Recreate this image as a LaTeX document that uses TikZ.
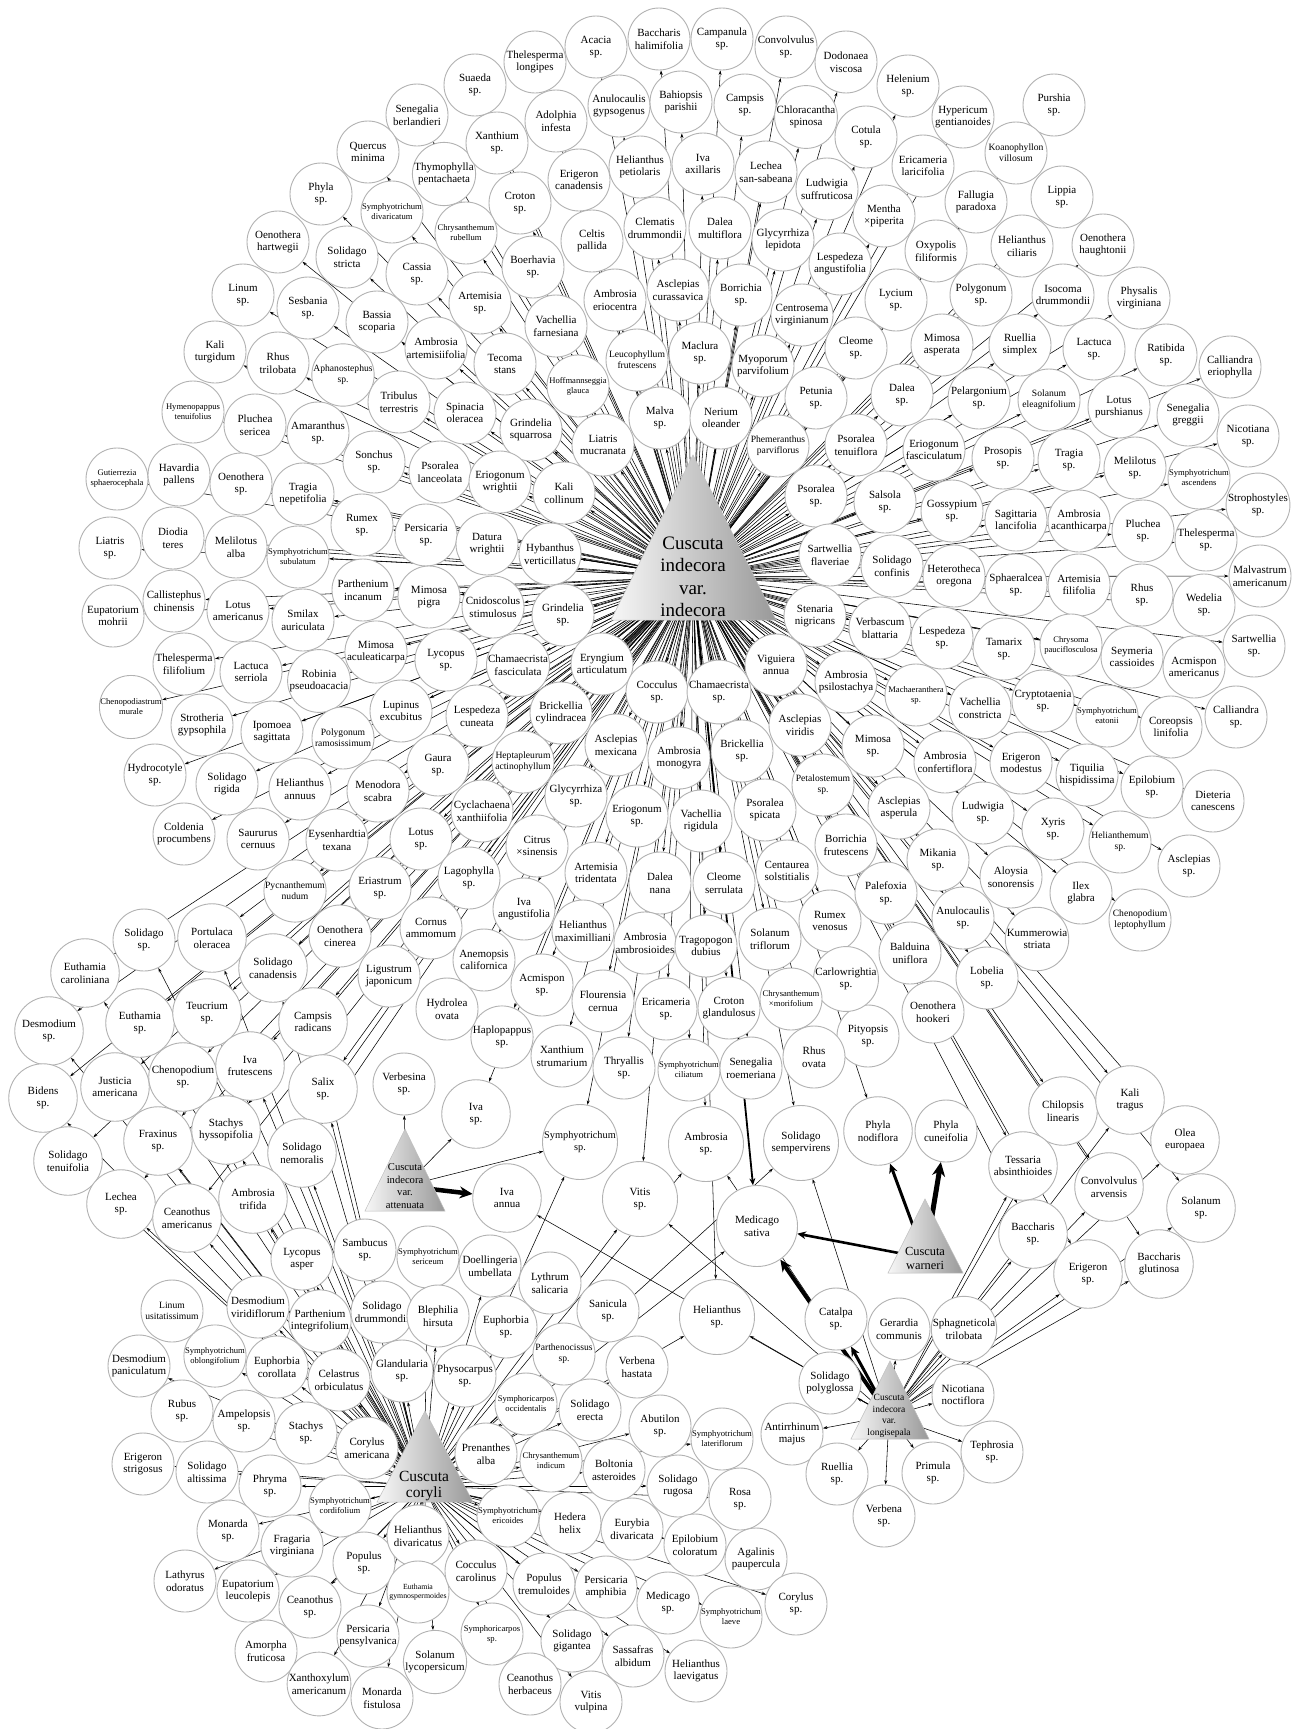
\documentclass[tikz,border=0pt]{standalone}
\usepackage{fontspec}
\setmainfont{Liberation Serif}
\usetikzlibrary{arrows.meta}
\pgfdeclarelayer{bg}
\pgfsetlayers{bg,main}
\newcommand\pl[5][p1]{\node[#1] (#2) at (#3,#4) {#5};}
\begin{document}
\begin{tikzpicture}[x=1pt,y=-1pt,
  p1/.style={circle,draw=gray!60,line width=0.9pt,fill=white,minimum size=62pt,inner sep=0pt,align=center,text=black,font=\fontsize{11}{12.6}\selectfont},
  p1m/.style={p1,font=\fontsize{9.6}{11}\selectfont},
  p1s/.style={p1,font=\fontsize{8.6}{10}\selectfont},
  p1xs/.style={p1,font=\fontsize{7.8}{9.4}\selectfont},
  p2/.style={p1,minimum size=68.5pt},
  p3/.style={p1,minimum size=75pt},
  p3m/.style={p3,font=\fontsize{10.3}{11.6}\selectfont},
  p4/.style={p1,minimum size=81pt},
  edge/.style={line width=0.55pt,-{Stealth[length=4.5pt,width=3pt]}},
  heavy/.style={line width=#1,-{Stealth[length=3pt 2.2,width=2pt 2.2]}},
  hubtri/.style={left color=gray!6,right color=gray!80,draw=gray!50,line width=0.5pt},
  hubtext/.style={align=center,text=black,inner sep=0pt},
]
\useasboundingbox (0,0) rectangle (1297,1729);
% ---------- hubs ----------
\shade[hubtri] (693,455) -- (776,620) -- (611,620) -- cycle;
\node[hubtext,font=\fontsize{19}{22.5}\selectfont] (A) at (693,577) {Cuscuta\\indecora\\var.\\indecora};
\shade[hubtri] (405,1129) -- (445,1211) -- (365,1211) -- cycle;
\node[hubtext,font=\fontsize{10.6}{12.6}\selectfont] (B) at (405,1186) {Cuscuta\\indecora\\var.\\attenuata};
\shade[hubtri] (925,1199) -- (963,1273) -- (888,1273) -- cycle;
\node[hubtext,font=\fontsize{12.4}{14}\selectfont] (C) at (925,1258) {Cuscuta\\warneri};
\shade[hubtri] (890,1361) -- (929,1439) -- (851,1439) -- cycle;
\node[hubtext,font=\fontsize{9.5}{11.5}\selectfont] (D) at (889,1416) {Cuscuta\\indecora\\var.\\longisepala};
\shade[hubtri] (425,1411) -- (473,1502) -- (377,1502) -- cycle;
\node[hubtext,font=\fontsize{15.5}{16}\selectfont] (E) at (424,1486) {Cuscuta\\coryli};
% ---------- upper left ----------
\pl{seneb}{417}{115}{Senegalia\\berlandieri}
\pl{quer}{368}{152}{Quercus\\minima}
\pl{thym}{444}{174}{Thymophylla\\pentachaeta}
\pl{phyla}{321}{194}{Phyla\\sp.}
\pl[p1s]{symdiv}{392}{212}{Symphyotrichum\\divaricatum}
\pl{oenhar}{278}{242}{Oenothera\\hartwegii}
\pl{solstr}{347}{257}{Solidago\\stricta}
\pl{cassia}{417}{274}{Cassia\\sp.}
\pl{linum}{243}{295}{Linum\\sp.}
\pl{sesb}{308}{308}{Sesbania\\sp.}
\pl{bassia}{377}{322}{Bassia\\scoparia}
\pl{ambart}{436}{348}{Ambrosia\\artemisiifolia}
\pl{kalitu}{215}{352}{Kali\\turgidum}
\pl{rhustr}{278}{363}{Rhus\\trilobata}
\pl[p1m]{aphan}{343}{375}{Aphanostephus\\sp.}
\pl{tribu}{399}{402}{Tribulus\\terrestris}
\pl[p1s]{hymen}{193}{412}{Hymenopappus\\tenuifolius}
\pl{plusr}{255}{425}{Pluchea\\sericea}
\pl{amara}{318}{433}{Amaranthus\\sp.}
% ---------- top ----------
\pl{thelo}{535}{62}{Thelesperma\\longipes}
\pl{acacia}{596}{47}{Acacia\\sp.}
\pl{bacha}{659}{39}{Baccharis\\halimifolia}
\pl{campa}{722}{39}{Campanula\\sp.}
\pl{convs}{786}{47}{Convolvulus\\sp.}
\pl{dodon}{846}{62}{Dodonaea\\viscosa}
\pl{suaeda}{475}{85}{Suaeda\\sp.}
\pl{anugy}{619}{106}{Anulocaulis\\gypsogenus}
\pl{bahio}{681}{102}{Bahiopsis\\parishii}
\pl{campsp}{745}{105}{Campsis\\sp.}
\pl{chlor}{806}{117}{Chloracantha\\spinosa}
\pl{adolp}{556}{121}{Adolphia\\infesta}
\pl{xansp}{497}{143}{Xanthium\\sp.}
\pl{helpet}{640}{167}{Helianthus\\petiolaris}
\pl{ivaax}{703}{164}{Iva\\axillaris}
\pl{lechss}{766}{172}{Lechea\\san-sabeana}
\pl{ludsuf}{827}{189}{Ludwigia\\suffruticosa}
\pl{erican}{579}{180}{Erigeron\\canadensis}
\pl{crotsp}{520}{203}{Croton\\sp.}
\pl[p1s]{chrrub}{466}{233}{Chrysanthemum\\rubellum}
\pl{celtis}{592}{241}{Celtis\\pallida}
\pl{clema}{655}{228}{Clematis\\drummondii}
\pl{dalmul}{720}{228}{Dalea\\multiflora}
\pl{glylep}{783}{240}{Glycyrrhiza\\lepidota}
\pl{lesang}{840}{264}{Lespedeza\\angustifolia}
\pl{boerh}{533}{267}{Boerhavia\\sp.}
\pl{artsp}{480}{303}{Artemisia\\sp.}
\pl{amberi}{615}{300}{Ambrosia\\eriocentra}
\pl{asccur}{678}{290}{Asclepias\\curassavica}
\pl{borsp}{741}{295}{Borrichia\\sp.}
\pl{centro}{802}{315}{Centrosema\\virginianum}
\pl{vachfa}{556}{326}{Vachellia\\farnesiana}
\pl{tecoma}{505}{364}{Tecoma\\stans}
\pl[p1m]{leuco}{637}{360}{Leucophyllum\\frutescens}
\pl{maclu}{700}{353}{Maclura\\sp.}
\pl{myopo}{763}{366}{Myoporum\\parvifolium}
\pl{cleosp}{856}{348}{Cleome\\sp.}
\pl[p1s]{hoffm}{578}{386}{Hoffmannseggia\\glauca}
\pl{petun}{816}{398}{Petunia\\sp.}
\pl{spina}{465}{413}{Spinacia\\oleracea}
\pl{grisq}{531}{430}{Grindelia\\squarrosa}
\pl{malva}{660}{418}{Malva\\sp.}
\pl{nerium}{721}{418}{Nerium\\oleander}
\pl{liamu}{603}{445}{Liatris\\mucranata}
\pl[p1m]{pheme}{778}{446}{Phemeranthus\\parviflorus}
% ---------- upper right ----------
\pl{helen}{908}{86}{Helenium\\sp.}
\pl{pursh}{1054}{105}{Purshia\\sp.}
\pl{hyper}{963}{117}{Hypericum\\gentianoides}
\pl{cotula}{866}{137}{Cotula\\sp.}
\pl[p1m]{koano}{1016}{153}{Koanophyllon\\villosum}
\pl{erilar}{923}{166}{Ericameria\\laricifolia}
\pl{lippia}{1062}{197}{Lippia\\sp.}
\pl{fallu}{976}{202}{Fallugia\\paradoxa}
\pl{mentha}{884}{216}{Mentha\\×piperita}
\pl{helcil}{1022}{246}{Helianthus\\ciliaris}
\pl{oenhau}{1103}{245}{Oenothera\\haughtonii}
\pl{oxypo}{936}{251}{Oxypolis\\filiformis}
\pl{lycium}{896}{300}{Lycium\\sp.}
\pl{polysp}{981}{295}{Polygonum\\sp.}
\pl{isoco}{1063}{295}{Isocoma\\drummondii}
\pl{physa}{1139}{298}{Physalis\\virginiana}
\pl{mimasp}{942}{345}{Mimosa\\asperata}
\pl{ruesim}{1020}{345}{Ruellia\\simplex}
\pl{lactsp}{1094}{349}{Lactuca\\sp.}
\pl{ratib}{1166}{355}{Ratibida\\sp.}
\pl{callie}{1230}{367}{Calliandra\\eriophylla}
\pl{dalsp}{902}{395}{Dalea\\sp.}
\pl{pelar}{979}{398}{Pelargonium\\sp.}
\pl[p1m]{solele}{1049}{400}{Solanum\\eleagnifolium}
\pl{lotpur}{1119}{407}{Lotus\\purshianus}
\pl{segreg}{1188}{415}{Senegalia\\greggii}
\pl{nicsp}{1248}{436}{Nicotiana\\sp.}
\pl{psoten}{856}{445}{Psoralea\\tenuiflora}
\pl{erifas}{934}{450}{Eriogonum\\fasciculatum}
\pl{prosop}{1003}{458}{Prosopis\\sp.}
\pl{tragsp}{1069}{460}{Tragia\\sp.}
\pl{melsp}{1135}{468}{Melilotus\\sp.}
\pl[p1s]{symasc}{1199}{478}{Symphyotrichum\\ascendens}
\pl{stroph}{1258}{505}{Strophostyles\\sp.}
\pl{salsola}{885}{502}{Salsola\\sp.}
\pl{gossy}{952}{511}{Gossypium\\sp.}
\pl{sagit}{1016}{520}{Sagittaria\\lancifolia}
\pl{ambaca}{1079}{521}{Ambrosia\\acanthicarpa}
\pl{plusp}{1143}{531}{Pluchea\\sp.}
\pl{thelsp}{1206}{540}{Thelesperma\\sp.}
\pl{malvas}{1260}{576}{Malvastrum\\americanum}
\pl{solcon}{892}{566}{Solidago\\confinis}
\pl{heter}{954}{576}{Heterotheca\\oregona}
\pl{sphae}{1016}{585}{Sphaeralcea\\sp.}
\pl{artfil}{1079}{585}{Artemisia\\filifolia}
\pl{rhussp}{1142}{595}{Rhus\\sp.}
\pl{wedel}{1204}{605}{Wedelia\\sp.}
\pl{sartsp}{1254}{646}{Sartwellia\\sp.}
\pl{verbla}{880}{628}{Verbascum\\blattaria}
\pl{lespsp}{942}{638}{Lespedeza\\sp.}
\pl{tamar}{1004}{649}{Tamarix\\sp.}
\pl[p1s]{chryso}{1071}{645}{Chrysoma\\pauciflosculosa}
\pl{seyme}{1132}{657}{Seymeria\\cassioides}
\pl{acmam}{1194}{667}{Acmispon\\americanus}
\pl[p1s]{machae}{916}{695}{Machaeranthera\\sp.}
\pl{vachco}{980}{708}{Vachellia\\constricta}
\pl{crypto}{1043}{701}{Cryptotaenia\\sp.}
\pl[p1s]{symeat}{1107}{716}{Symphyotrichum\\eatonii}
\pl{coreop}{1171}{727}{Coreopsis\\linifolia}
\pl{callsp}{1236}{717}{Calliandra\\sp.}
\pl{mimosp}{873}{746}{Mimosa\\sp.}
\pl{ambcon}{945}{762}{Ambrosia\\confertiflora}
\pl{erimod}{1021}{763}{Erigeron\\modestus}
\pl{tiqui}{1087}{775}{Tiquilia\\hispidissima}
\pl{epilsp}{1152}{787}{Epilobium\\sp.}
\pl{dieter}{1213}{801}{Dieteria\\canescens}
\pl{ascasp}{899}{808}{Asclepias\\asperula}
\pl{ludsp}{983}{813}{Ludwigia\\sp.}
\pl{xyris}{1053}{829}{Xyris\\sp.}
\pl[p1m]{helthe}{1120}{842}{Helianthemum\\sp.}
\pl{ascsp}{1189}{866}{Asclepias\\sp.}
\pl{mikan}{938}{860}{Mikania\\sp.}
\pl{aloys}{1011}{877}{Aloysia\\sonorensis}
\pl{ilex}{1081}{893}{Ilex\\glabra}
\pl[p1m]{chelep}{1140}{920}{Chenopodium\\leptophyllum}
\pl{palef}{886}{893}{Palefoxia\\sp.}
\pl{anusp}{963}{918}{Anulocaulis\\sp.}
\pl{kummer}{1037}{939}{Kummerowia\\striata}
\pl{baldu}{910}{953}{Balduina\\uniflora}
\pl{lobel}{987}{978}{Lobelia\\sp.}
\pl{oenhoo}{933}{1012}{Oenothera\\hookeri}
\pl{pityo}{868}{1036}{Pityopsis\\sp.}
% ---------- left ----------
\pl[p1s]{gutie}{117}{479}{Gutierrezia\\sphaerocephala}
\pl{havar}{179}{475}{Havardia\\pallens}
\pl{oensp}{241}{484}{Oenothera\\sp.}
\pl{tranep}{303}{494}{Tragia\\nepetifolia}
\pl{sonch}{374}{462}{Sonchus\\sp.}
\pl{psolan}{440}{472}{Psoralea\\lanceolata}
\pl{liasp}{110}{548}{Liatris\\sp.}
\pl{diodia}{173}{538}{Diodia\\teres}
\pl{melalb}{236}{547}{Melilotus\\alba}
\pl[p1s]{symsub}{298}{557}{Symphyotrichum\\subulatum}
\pl{rumsp}{362}{525}{Rumex\\sp.}
\pl{persp}{426}{535}{Persicaria\\sp.}
\pl{eupmoh}{113}{616}{Eupatorium\\mohrii}
\pl{calli}{174}{601}{Callistephus\\chinensis}
\pl{lotam}{238}{611}{Lotus\\americanus}
\pl{parinc}{363}{590}{Parthenium\\incanum}
\pl{smilax}{303}{620}{Smilax\\auriculata}
\pl{mimpig}{429}{597}{Mimosa\\pigra}
\pl{thefil}{184}{664}{Thelesperma\\filifolium}
\pl{lacser}{251}{672}{Lactuca\\serriola}
\pl{robin}{319}{681}{Robinia\\pseudoacacia}
\pl{mimacu}{376}{652}{Mimosa\\aculeaticarpa}
\pl{lycosp}{446}{660}{Lycopus\\sp.}
\pl[p1s]{chemur}{131}{707}{Chenopodiastrum\\murale}
\pl{strot}{202}{725}{Strotheria\\gypsophila}
\pl{ipomo}{272}{732}{Ipomoea\\sagittata}
\pl[p1m]{polram}{343}{738}{Polygonum\\ramosissimum}
\pl{lupin}{401}{711}{Lupinus\\excubitus}
\pl{gaura}{438}{765}{Gaura\\sp.}
\pl{hydrsp}{155}{775}{Hydrocotyle\\sp.}
\pl{solrig}{227}{784}{Solidago\\rigida}
\pl{helann}{300}{789}{Helianthus\\annuus}
\pl{menod}{378}{791}{Menodora\\scabra}
\pl{colde}{184}{834}{Coldenia\\procumbens}
\pl{saur}{258}{839}{Saururus\\cernuus}
\pl{eysen}{337}{840}{Eysenhardtia\\texana}
\pl{lotsp}{421}{839}{Lotus\\sp.}
% ---------- inner ring ----------
\pl{eriwri}{500}{482}{Eriogonum\\wrightii}
\pl{kalico}{564}{493}{Kali\\collinum}
\pl{psosp}{816}{496}{Psoralea\\sp.}
\pl{datura}{487}{544}{Datura\\wrightii}
\pl{hyban}{550}{554}{Hybanthus\\verticillatus}
\pl{sartfl}{830}{555}{Sartwellia\\flaveriae}
\pl{cnido}{493}{607}{Cnidoscolus\\stimulosus}
\pl{grisp}{563}{615}{Grindelia\\sp.}
\pl{stena}{815}{616}{Stenaria\\nigricans}
\pl{chafas}{518}{665}{Chamaecrista\\fasciculata}
\pl{eryng}{602}{664}{Eryngium\\articulatum}
\pl{vigui}{776}{665}{Viguiera\\annua}
\pl{ambpsi}{846}{682}{Ambrosia\\psilostachya}
\pl{coccsp}{657}{692}{Cocculus\\sp.}
\pl{chamsp}{719}{692}{Chamaecrista\\sp.}
\pl{lescun}{477}{716}{Lespedeza\\cuneata}
\pl{bricyl}{561}{713}{Brickellia\\cylindracea}
\pl{ascvir}{800}{725}{Asclepias\\viridis}
\pl{ascmex}{616}{745}{Asclepias\\mexicana}
\pl{ambmon}{679}{758}{Ambrosia\\monogyra}
\pl{bricsp}{742}{751}{Brickellia\\sp.}
\pl[p1m]{hepta}{523}{762}{Heptapleurum\\actinophyllum}
\pl[p1m]{petal}{823}{785}{Petalostemum\\sp.}
\pl{glysp}{576}{796}{Glycyrrhiza\\sp.}
\pl{cycla}{482}{811}{Cyclachaena\\xanthiifolia}
\pl{erisp}{637}{816}{Eriogonum\\sp.}
\pl{vacrig}{701}{821}{Vachellia\\rigidula}
\pl{psospi}{765}{810}{Psoralea\\spicata}
\pl{borfru}{846}{845}{Borrichia\\frutescens}
\pl{citrus}{537}{846}{Citrus\\×sinensis}
% ---------- middle lower ----------
\pl[p1m]{pycna}{295}{891}{Pycnanthemum\\nudum}
\pl{eriast}{380}{888}{Eriastrum\\sp.}
\pl{cornus}{431}{928}{Cornus\\ammomum}
\pl{lagop}{469}{878}{Lagophylla\\sp.}
\pl{arttri}{596}{873}{Artemisia\\tridentata}
\pl{dalnan}{660}{883}{Dalea\\nana}
\pl{cleser}{724}{883}{Cleome\\serrulata}
\pl{centau}{787}{871}{Centaurea\\solstitialis}
\pl{ivaang}{524}{909}{Iva\\angustifolia}
\pl{helmax}{583}{931}{Helianthus\\maximilliani}
\pl{rumven}{830}{921}{Rumex\\venosus}
\pl{ambamb}{645}{943}{Ambrosia\\ambrosioides}
\pl{tragop}{706}{946}{Tragopogon\\dubius}
\pl{soltri}{770}{939}{Solanum\\triflorum}
\pl{anemo}{484}{960}{Anemopsis\\californica}
\pl{carlo}{846}{979}{Carlowrightia\\sp.}
\pl{acmsp}{542}{985}{Acmispon\\sp.}
\pl{flour}{603}{1001}{Flourensia\\cernua}
\pl{erics}{666}{1009}{Ericameria\\sp.}
\pl{crogla}{729}{1008}{Croton\\glandulosus}
\pl[p1s]{chrmor}{791}{999}{Chrysanthemum\\×morifolium}
\pl{haplo}{502}{1037}{Haplopappus\\sp.}
\pl{xanstr}{562}{1056}{Xanthium\\strumarium}
\pl{thryal}{624}{1068}{Thryallis\\sp.}
\pl[p1s]{symcil}{689}{1070}{Symphyotrichum\\ciliatum}
\pl{senroe}{751}{1068}{Senegalia\\roemeriana}
\pl{rhusov}{814}{1057}{Rhus\\ovata}
\pl{oencin}{340}{936}{Oenothera\\cinerea}
\pl{ligus}{389}{976}{Ligustrum\\japonicum}
\pl{hydrol}{447}{1009}{Hydrolea\\ovata}
% ---------- lower left cluster ----------
\pl{solsp}{144}{940}{Solidago\\sp.}
\pl[p2]{portu}{212}{938}{Portulaca\\oleracea}
\pl[p2]{euthca}{85}{973}{Euthamia\\caroliniana}
\pl[p2]{solcan}{273}{968}{Solidago\\canadensis}
\pl[p2]{desmsp}{49}{1031}{Desmodium\\sp.}
\pl[p2]{euthsp}{140}{1023}{Euthamia\\sp.}
\pl[p2]{teucr}{207}{1013}{Teucrium\\sp.}
\pl[p2]{campra}{313}{1022}{Campsis\\radicans}
\pl[p2]{bidens}{43}{1098}{Bidens\\sp.}
\pl[p2]{justi}{115}{1087}{Justicia\\americana}
\pl[p2]{chensp}{183}{1077}{Chenopodium\\sp.}
\pl[p2]{ivafru}{250}{1066}{Iva\\frutescens}
\pl[p2]{salix}{323}{1089}{Salix\\sp.}
\pl{verbes}{404}{1084}{Verbesina\\sp.}
\pl[p2]{fraxi}{158}{1141}{Fraxinus\\sp.}
\pl[p2]{stahys}{226}{1130}{Stachys\\hyssopifolia}
\pl[p2]{soltnf}{68}{1161}{Solidago\\tenuifolia}
\pl[p2]{solnem}{302}{1153}{Solidago\\nemoralis}
\pl[p2]{lechsp}{121}{1204}{Lechea\\sp.}
\pl[p2]{ceaam}{187}{1218}{Ceanothus\\americanus}
\pl[p2]{ambtri}{253}{1199}{Ambrosia\\trifida}
\pl{lycasp}{302}{1259}{Lycopus\\asper}
\pl{sambu}{365}{1250}{Sambucus\\sp.}
\pl[p1s]{symser}{428}{1257}{Symphyotrichum\\sericeum}
% ---------- middle ----------
\pl[p2]{ivasp}{476}{1114}{Iva\\sp.}
\pl[p3m]{symsp}{580}{1142}{Symphyotrichum\\sp.}
\pl[p3]{ambsp}{706}{1144}{Ambrosia\\sp.}
\pl[p3]{solsem}{801}{1143}{Solidago\\sempervirens}
\pl[p2]{ivaann}{507}{1198}{Iva\\annua}
\pl[p3]{vitis}{640}{1199}{Vitis\\sp.}
\pl[p4]{medsat}{757}{1226}{Medicago\\sativa}
\pl[p2]{phynod}{878}{1131}{Phyla\\nodiflora}
\pl{phycun}{946}{1131}{Phyla\\cuneifolia}
% ---------- right cluster ----------
\pl[p2]{chilo}{1063}{1111}{Chilopsis\\linearis}
\pl[p2]{kalitr}{1130}{1100}{Kali\\tragus}
\pl[p2]{olea}{1185}{1140}{Olea\\europaea}
\pl[p2]{tessa}{1023}{1166}{Tessaria\\absinthioides}
\pl[p2]{convar}{1109}{1187}{Convolvulus\\arvensis}
\pl[p2]{solasp}{1201}{1208}{Solanum\\sp.}
\pl[p2]{bacsp}{1033}{1234}{Baccharis\\sp.}
\pl[p2]{erigsp}{1088}{1274}{Erigeron\\sp.}
\pl[p2]{bacglu}{1159}{1264}{Baccharis\\glutinosa}
% ---------- lower middle / longisepala ----------
\pl{doell}{490}{1266}{Doellingeria\\umbellata}
\pl{lythr}{550}{1283}{Lythrum\\salicaria}
\pl{sanic}{608}{1311}{Sanicula\\sp.}
\pl[p3]{helsp}{717}{1317}{Helianthus\\sp.}
\pl{catal}{836}{1319}{Catalpa\\sp.}
\pl{gerar}{899}{1329}{Gerardia\\communis}
\pl{sphag}{964}{1329}{Sphagneticola\\trilobata}
\pl{solpol}{830}{1383}{Solidago\\polyglossa}
\pl{nicnoc}{963}{1395}{Nicotiana\\noctiflora}
\pl{antir}{792}{1434}{Antirrhinum\\majus}
\pl{tephr}{992}{1452}{Tephrosia\\sp.}
\pl{ruelsp}{837}{1474}{Ruellia\\sp.}
\pl{primu}{933}{1473}{Primula\\sp.}
\pl{verbsp}{884}{1516}{Verbena\\sp.}
% ---------- coryli cluster ----------
\pl[p1m]{linusi}{172}{1311}{Linum\\usitatissimum}
\pl{desvir}{258}{1307}{Desmodium\\viridiflorum}
\pl{parint}{320}{1321}{Parthenium\\integrifolium}
\pl{soldru}{382}{1312}{Solidago\\drummondii}
\pl{bleph}{438}{1316}{Blephilia\\hirsuta}
\pl{euphsp}{506}{1327}{Euphorbia\\sp.}
\pl{despan}{139}{1366}{Desmodium\\paniculatum}
\pl[p1s]{symobl}{215}{1356}{Symphyotrichum\\oblongifolium}
\pl{eupcor}{277}{1367}{Euphorbia\\corollata}
\pl{celas}{339}{1380}{Celastrus\\orbiculatus}
\pl{gland}{402}{1371}{Glandularia\\sp.}
\pl{physo}{465}{1376}{Physocarpus\\sp.}
\pl[p1m]{parthe}{564}{1354}{Parthenocissus\\sp.}
\pl{verhas}{637}{1367}{Verbena\\hastata}
\pl{rubus}{182}{1411}{Rubus\\sp.}
\pl{ampel}{244}{1421}{Ampelopsis\\sp.}
\pl{stasp}{306}{1433}{Stachys\\sp.}
\pl{corame}{367}{1448}{Corylus\\americana}
\pl[p1s]{symocc}{526}{1404}{Symphoricarpos\\occidentalis}
\pl{solere}{590}{1410}{Solidago\\erecta}
\pl{abuti}{660}{1426}{Abutilon\\sp.}
\pl[p1s]{symlat}{722}{1439}{Symphyotrichum\\lateriflorum}
\pl{erigst}{143}{1464}{Erigeron\\strigosus}
\pl{solalt}{207}{1472}{Solidago\\altissima}
\pl{phryma}{270}{1486}{Phryma\\sp.}
\pl[p1s]{symcor}{340}{1506}{Symphyotrichum\\cordifolium}
\pl{prena}{486}{1454}{Prenanthes\\alba}
\pl[p1s]{chrind}{551}{1461}{Chrysanthemum\\indicum}
\pl{bolto}{614}{1470}{Boltonia\\asteroides}
\pl{solrug}{678}{1486}{Solidago\\rugosa}
\pl{rosa}{740}{1499}{Rosa\\sp.}
\pl{monsp}{228}{1531}{Monarda\\sp.}
\pl{fragar}{292}{1546}{Fragaria\\virginiana}
\pl{popsp}{364}{1563}{Populus\\sp.}
\pl{heldiv}{418}{1536}{Helianthus\\divaricatus}
\pl[p1s]{symeri}{508}{1516}{Symphyotrichum\\ericoides}
\pl{hedera}{570}{1523}{Hedera\\helix}
\pl{eurybi}{632}{1529}{Eurybia\\divaricata}
\pl{epicol}{695}{1545}{Epilobium\\coloratum}
\pl{agalin}{756}{1559}{Agalinis\\paupercula}
\pl{lathyr}{185}{1581}{Lathyrus\\odoratus}
\pl{eupleu}{248}{1591}{Eupatorium\\leucolepis}
\pl{ceasp}{310}{1607}{Ceanothus\\sp.}
\pl[p1xs]{euthgy}{418}{1592}{Euthamia\\gymnospermoides}
\pl{coccar}{476}{1571}{Cocculus\\carolinus}
\pl{poptre}{544}{1584}{Populus\\tremuloides}
\pl{perams}{606}{1587}{Persicaria\\amphibia}
\pl{medsp}{668}{1603}{Medicago\\sp.}
\pl[p1s]{symlae}{731}{1617}{Symphyotrichum\\laeve}
\pl{corysp}{796}{1604}{Corylus\\sp.}
\pl{perpen}{368}{1636}{Persicaria\\pensylvanica}
\pl{amorph}{266}{1651}{Amorpha\\fruticosa}
\pl{solaly}{435}{1662}{Solanum\\lycopersicum}
\pl[p1s]{symsp2}{492}{1634}{Symphoricarpos\\sp.}
\pl{solgig}{572}{1641}{Solidago\\gigantea}
\pl{sassa}{633}{1656}{Sassafras\\albidum}
\pl{helalv}{696}{1671}{Helianthus\\laevigatus}
\pl{xantho}{319}{1684}{Xanthoxylum\\americanum}
\pl{monfis}{382}{1698}{Monarda\\fistulosa}
\pl{ceaher}{530}{1684}{Ceanothus\\herbaceus}
\pl{vitvul}{591}{1702}{Vitis\\vulpina}
% ---------- connectors ----------
\begin{pgfonlayer}{bg}
\fill[white] (0,0) rectangle (1297,1729);
\foreach \n in {seneb,quer,thym,phyla,symdiv,oenhar,solstr,cassia,linum,sesb,bassia,ambart,kalitu,rhustr,aphan,tribu,hymen,plusr,amara,
 thelo,acacia,bacha,campa,convs,dodon,suaeda,anugy,bahio,campsp,chlor,adolp,xansp,helpet,ivaax,lechss,ludsuf,erican,crotsp,chrrub,celtis,clema,dalmul,glylep,lesang,boerh,artsp,amberi,asccur,borsp,centro,vachfa,tecoma,leuco,maclu,myopo,cleosp,hoffm,petun,spina,grisq,malva,nerium,liamu,pheme,
 helen,pursh,hyper,cotula,koano,erilar,lippia,fallu,mentha,helcil,oenhau,oxypo,lycium,polysp,isoco,physa,mimasp,ruesim,lactsp,ratib,callie,dalsp,pelar,solele,lotpur,segreg,nicsp,psoten,erifas,prosop,tragsp,melsp,symasc,stroph,salsola,gossy,sagit,ambaca,plusp,thelsp,malvas,solcon,heter,sphae,artfil,rhussp,wedel,sartsp,verbla,lespsp,tamar,chryso,seyme,acmam,machae,vachco,crypto,symeat,coreop,callsp,mimosp,ambcon,erimod,tiqui,epilsp,dieter,ascasp,ludsp,xyris,helthe,ascsp,mikan,aloys,ilex,chelep,palef,anusp,kummer,baldu,lobel,oenhoo,pityo,
 gutie,havar,oensp,tranep,sonch,psolan,liasp,diodia,melalb,symsub,rumsp,persp,eupmoh,calli,lotam,parinc,smilax,mimpig,thefil,lacser,robin,mimacu,lycosp,chemur,strot,ipomo,polram,lupin,gaura,hydrsp,solrig,helann,menod,colde,saur,eysen,lotsp,
 eriwri,kalico,psosp,datura,hyban,sartfl,cnido,grisp,stena,chafas,eryng,vigui,ambpsi,coccsp,chamsp,lescun,bricyl,ascvir,ascmex,ambmon,bricsp,hepta,petal,glysp,cycla,erisp,vacrig,psospi,borfru,citrus,
 pycna,eriast,cornus,lagop,arttri,dalnan,cleser,centau,ivaang,helmax,rumven,ambamb,tragop,soltri,anemo,carlo,acmsp,flour,erics,crogla,chrmor,haplo,xanstr,thryal,symcil,senroe,rhusov,oencin,ligus,hydrol,
 portu,euthca,solcan,desmsp,euthsp,teucr,campra,bidens,justi,chensp,ivafru,salix,fraxi,stahys,soltnf,solnem,lechsp,ceaam,ambtri,
 ivasp,symsp,ambsp,solsem,vitis,helsp,phynod,chilo,kalitr,olea,tessa,convar,solasp,bacsp,erigsp,bacglu}
  \draw[edge] (A.center) -- (\n);
\foreach \n in {portu,euthca,solcan,desmsp,euthsp,teucr,campra,bidens,justi,chensp,ivafru,salix,fraxi,stahys,soltnf,solnem,lechsp,ceaam,ambtri,
 solsp,lycasp,sambu,symser,doell,lythr,sanic,euphsp,bleph,soldru,linusi,desvir,parint,despan,symobl,eupcor,celas,gland,physo,parthe,verhas,
 rubus,ampel,stasp,corame,symocc,solere,abuti,symlat,erigst,solalt,phryma,symcor,prena,chrind,bolto,solrug,rosa,monsp,fragar,popsp,heldiv,
 symeri,hedera,eurybi,epicol,agalin,lathyr,eupleu,ceasp,euthgy,coccar,poptre,perams,medsp,symlae,corysp,perpen,amorph,solaly,symsp2,solgig,
 sassa,helalv,xantho,monfis,ceaher,vitvul,symsp,vitis,ambsp,solsem,helsp,medsat}
  \draw[edge] (E.center) -- (\n);
\foreach \n in {gerar,sphag,nicnoc,tephr,primu,verbsp,ruelsp,antir,solpol,helsp,solsem,vitis,ambsp,ivaann,
 chilo,kalitr,olea,tessa,convar,solasp,bacsp,erigsp,bacglu}
  \draw[edge] (D.center) -- (\n);
\foreach \n in {verbes,ivasp,symsp}
  \draw[edge] (B.center) -- (\n);
\draw[heavy=4.5pt] (B.center) -- (ivaann);
\draw[heavy=5pt] (C.center) -- (phycun);
\draw[heavy=3pt] (C.center) -- (phynod);
\draw[heavy=2.6pt] (C.center) -- (medsat);
\draw[heavy=4pt] (D.center) -- (medsat);
\draw[heavy=3pt] (D.center) -- (catal);
\draw[heavy=1.8pt] (A.center) -- (medsat);
\end{pgfonlayer}
\end{tikzpicture}
\end{document}
